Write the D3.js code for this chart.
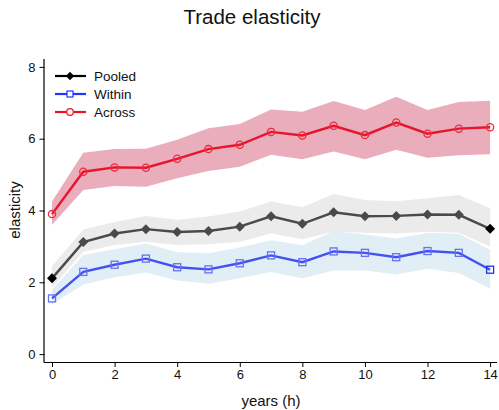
<!DOCTYPE html>
<html>
<head>
<meta charset="utf-8">
<script src="https://cdn.jsdelivr.net/npm/d3@7"></script>
<style>
  body { margin: 0; background: #fff; }
  svg { display: block; font-family: "Liberation Sans", Arial, sans-serif; }
</style>
</head>
<body>
<svg id="chart" width="499" height="410"></svg>
<script>
// Horizons (years)
const horizons = [0, 1, 2, 3, 4, 5, 6, 7, 8, 9, 10, 11, 12, 13, 14];

// Point estimates
const pooled = [2.11, 3.12, 3.36, 3.48, 3.40, 3.43, 3.55, 3.84, 3.63, 3.95, 3.84, 3.85, 3.89, 3.88, 3.49];
const within = [1.55, 2.29, 2.49, 2.66, 2.42, 2.36, 2.53, 2.75, 2.56, 2.86, 2.82, 2.70, 2.87, 2.82, 2.35];
const across = [3.90, 5.08, 5.20, 5.19, 5.44, 5.71, 5.83, 6.19, 6.09, 6.36, 6.10, 6.45, 6.14, 6.28, 6.32];

// Confidence bands
const pooledLo = [1.85, 2.85, 3.04, 3.13, 3.04, 3.06, 3.13, 3.36, 3.20, 3.41, 3.38, 3.36, 3.41, 3.38, 2.99];
const pooledHi = [2.45, 3.47, 3.68, 3.85, 3.74, 3.83, 3.97, 4.25, 4.09, 4.46, 4.29, 4.26, 4.34, 4.43, 4.06];
const withinLo = [1.39, 1.94, 2.14, 2.27, 2.05, 1.96, 2.11, 2.29, 2.11, 2.33, 2.33, 2.22, 2.38, 2.26, 1.82];
const withinHi = [1.80, 2.76, 2.92, 3.08, 2.84, 2.81, 2.97, 3.17, 3.03, 3.42, 3.33, 3.22, 3.37, 3.35, 2.91];
const acrossLo = [3.60, 4.57, 4.68, 4.66, 4.90, 5.10, 5.22, 5.55, 5.43, 5.64, 5.43, 5.69, 5.47, 5.54, 5.57];
const acrossHi = [4.25, 5.61, 5.71, 5.72, 5.97, 6.29, 6.41, 6.81, 6.75, 7.05, 6.80, 7.17, 6.80, 7.02, 7.06];

const xTicks = [0, 2, 4, 6, 8, 10, 12, 14];
const yTicks = [0, 2, 4, 6, 8];

const svg = d3.select("#chart");

const x = d3.scaleLinear().domain([-0.24, 14.22]).range([44.5, 497]);
const y = d3.scaleLinear().domain([-0.22, 8.22]).range([362, 59]);

// Title
svg.append("text")
  .attr("x", 252).attr("y", 24)
  .attr("text-anchor", "middle")
  .attr("font-size", 20.5)
  .attr("fill", "#111")
  .text("Trade elasticity");

// Bands
const area = (lo, hi) => d3.area()
  .x((d, i) => x(horizons[i]))
  .y0((d, i) => y(lo[i]))
  .y1((d, i) => y(hi[i]))(horizons);

svg.append("path").attr("d", area(acrossLo, acrossHi)).attr("fill", "#e9adbb");
svg.append("path").attr("d", area(pooledLo, pooledHi)).attr("fill", "#ebebeb");
svg.append("path").attr("d", area(withinLo, withinHi)).attr("fill", "#e1eef5");

// Axes
const yAxis = svg.append("g")
  .attr("transform", "translate(44.5,0)")
  .call(d3.axisLeft(y).tickValues(yTicks).tickSize(5).tickPadding(4).tickFormat(d3.format("d")));
const xAxis = svg.append("g")
  .attr("transform", "translate(0,362)")
  .call(d3.axisBottom(x).tickValues(xTicks).tickSize(5).tickPadding(3).tickFormat(d3.format("d")));
[xAxis, yAxis].forEach(a => {
  a.select(".domain").attr("stroke", "#000").attr("stroke-width", 1.2);
  a.selectAll(".tick line").attr("stroke", "#000");
  a.selectAll(".tick text").attr("font-size", 13).attr("fill", "#111")
    .attr("font-family", "Liberation Sans, Arial, sans-serif");
});
yAxis.select(".domain").attr("d", "M-0.5," + y(8.22) + "V362.5");
xAxis.select(".domain").attr("d", "M44,0.5H497");

// Axis titles
svg.append("text")
  .attr("x", 271).attr("y", 406)
  .attr("text-anchor", "middle")
  .attr("font-size", 15)
  .attr("fill", "#111")
  .text("years (h)");
svg.append("text")
  .attr("transform", "translate(20,210) rotate(-90)")
  .attr("text-anchor", "middle")
  .attr("font-size", 15)
  .attr("fill", "#111")
  .text("elasticity");

// Lines
const line = vals => d3.line()
  .x((d, i) => x(horizons[i]))
  .y((d, i) => y(vals[i]))(horizons);

svg.append("path").attr("d", line(pooled)).attr("fill", "none")
  .attr("stroke", "#4a4a4a").attr("stroke-width", 2.4);
svg.append("path").attr("d", line(within)).attr("fill", "none")
  .attr("stroke", "#4451f2").attr("stroke-width", 2.4);
svg.append("path").attr("d", line(across)).attr("fill", "none")
  .attr("stroke", "#e8142c").attr("stroke-width", 2.4);

// Markers
const diamond = d3.symbol().type(d3.symbolDiamond2).size(64);
svg.append("g").selectAll("path").data(horizons).join("path")
  .attr("d", diamond)
  .attr("transform", (d, i) => `translate(${x(d)},${y(pooled[i])})`)
  .attr("fill", (d, i) => (i === 0 || i === horizons.length - 1) ? "#000" : "#4a4a4a");

svg.append("g").selectAll("rect").data(horizons).join("rect")
  .attr("x", d => x(d) - 3.5)
  .attr("y", (d, i) => y(within[i]) - 3.5)
  .attr("width", 7).attr("height", 7)
  .attr("fill", "none")
  .attr("stroke", (d, i) => i === horizons.length - 1 ? "#2230f0" : "#6670f2")
  .attr("stroke-width", 1.3);

svg.append("g").selectAll("circle").data(horizons).join("circle")
  .attr("cx", d => x(d))
  .attr("cy", (d, i) => y(across[i]))
  .attr("r", 3.6)
  .attr("fill", "none")
  .attr("stroke", "#ee2b3e")
  .attr("stroke-width", 1.3);

// Legend
const legendItems = ["Pooled", "Within", "Across"];
const legendColors = ["#000", "#2233ff", "#ee1122"];
const lg = svg.append("g");
legendItems.forEach((name, i) => {
  const yy = 76 + i * 18;
  lg.append("line").attr("x1", 55).attr("x2", 86).attr("y1", yy).attr("y2", yy)
    .attr("stroke", legendColors[i]).attr("stroke-width", 2.2);
  if (i === 0) {
    lg.append("path").attr("d", d3.symbol().type(d3.symbolDiamond2).size(44))
      .attr("transform", `translate(70,${yy})`).attr("fill", "#000");
  } else if (i === 1) {
    lg.append("rect").attr("x", 67).attr("y", yy - 3).attr("width", 6).attr("height", 6)
      .attr("fill", "#fff").attr("stroke", legendColors[i]).attr("stroke-width", 1.2);
  } else {
    lg.append("circle").attr("cx", 70).attr("cy", yy).attr("r", 3.3)
      .attr("fill", "#fff").attr("stroke", legendColors[i]).attr("stroke-width", 1.2);
  }
  lg.append("text").attr("x", 94).attr("y", yy + 4.5)
    .attr("font-size", 13.5).attr("fill", "#111").text(name);
});
</script>
</body>
</html>
